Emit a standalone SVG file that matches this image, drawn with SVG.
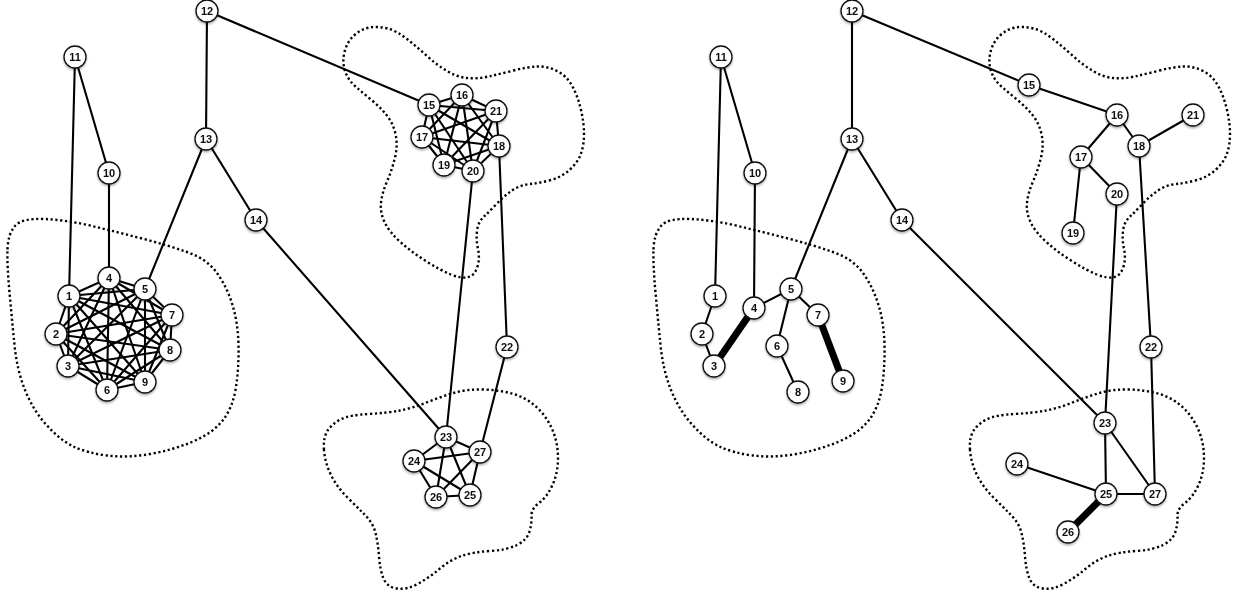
<svg xmlns="http://www.w3.org/2000/svg" xmlns:xlink="http://www.w3.org/1999/xlink" width="1236" height="598" viewBox="0 0 1236 598">
<style>
.blob{fill:none;stroke:#000;stroke-width:2.4;stroke-dasharray:2.2 2.6;stroke-linecap:butt}
.e{stroke:#000;stroke-width:2.1;stroke-linecap:round}
.t{stroke:#000;stroke-width:7;stroke-linecap:butt}
.n circle{fill:#fff;stroke:#111;stroke-width:1.3}
.n text{font-family:"Liberation Sans",Arial,sans-serif;font-size:11px;font-weight:bold;fill:#111;text-anchor:middle}
</style>
<defs>
<filter id="sh" x="-50%" y="-50%" width="200%" height="200%">
<feDropShadow dx="0" dy="1.5" stdDeviation="1" flood-color="#000" flood-opacity="0.35"/>
</filter>
<path id="blobA" d="M7.5,249.5 Q8,234 15,226 Q22,218 44.5,219 Q67,220 92,226 Q117,232 142,238.5 Q167,245 187,252 Q207,259 217,273 Q227,287 232.5,305 Q238,323 238.5,345 Q239,367 236,387 Q233,407 223,420 Q213,433 193,441.5 Q173,450 150,454 Q127,458 107,455.5 Q87,453 73.5,446.5 Q60,440 46.5,425 Q33,410 25,390 Q17,370 14.5,345 Q12,320 9.5,292.5 Q7,265 7.5,249.5 Z"/>
<path id="blobB" d="M345,71 Q342,62 344.5,52 Q347,42 354,35.5 Q361,29 369.5,27.5 Q378,26 387.5,28.5 Q397,31 407,39 Q417,47 427,56 Q437,65 447,71 Q457,77 467,78 Q477,79 488.5,76.5 Q500,74 513.5,70.5 Q527,67 537,66.5 Q547,66 557,71 Q567,76 572.5,86.5 Q578,97 581,110 Q584,123 584,134 Q584,145 581,153.5 Q578,162 570,169.5 Q562,177 551,180 Q540,183 530,184 Q520,185 512,190.5 Q504,196 497,203.5 Q490,211 484,216.5 Q478,222 477,231 Q476,240 478,249 Q480,258 477.5,266.5 Q475,275 468.5,277 Q462,279 451,274.5 Q440,270 426.5,261.5 Q413,253 401.5,243 Q390,233 385,223 Q380,213 381,203 Q382,193 387,181.5 Q392,170 395,157.5 Q398,145 395.5,134 Q393,123 386.5,115 Q380,107 371.5,100 Q363,93 355.5,86.5 Q348,80 345,71 Z"/>
<path id="blobC" d="M324,450 Q323,437 328,430 Q333,423 341.5,419 Q350,415 368.5,414 Q387,413 400,410.5 Q413,408 426.5,402.5 Q440,397 453.5,393 Q467,389 483.5,389.5 Q500,390 513.5,394 Q527,398 537,407.5 Q547,417 552.5,430 Q558,443 558,458 Q558,473 552.5,485 Q547,497 539,503 Q531,509 531.5,516 Q532,523 529.5,531.5 Q527,540 517,545 Q507,550 490,551 Q473,552 461.5,556 Q450,560 440,568.5 Q430,577 418.5,583.5 Q407,590 397,588.5 Q387,587 383.5,578.5 Q380,570 379,556.5 Q378,543 375.5,533 Q373,523 365,515 Q357,507 347,497 Q337,487 331,475 Q325,463 324,450 Z"/>
</defs>
<rect width="1236" height="598" fill="#fff"/>
<g id="clusters">
<use xlink:href="#blobA" href="#blobA" class="blob"/>
<use xlink:href="#blobB" href="#blobB" class="blob"/>
<use xlink:href="#blobC" href="#blobC" class="blob"/>
<use xlink:href="#blobA" href="#blobA" class="blob" transform="translate(646,0)"/>
<use xlink:href="#blobB" href="#blobB" class="blob" transform="translate(646,0)"/>
<use xlink:href="#blobC" href="#blobC" class="blob" transform="translate(646,0)"/>
</g>
<g id="connectors">
<!-- left graph -->
<line class="e" x1="75" y1="57" x2="69" y2="296"/>
<line class="e" x1="75" y1="57" x2="109" y2="173"/>
<line class="e" x1="109" y1="173" x2="109" y2="278"/>
<line class="e" x1="207" y1="11" x2="206" y2="139"/>
<line class="e" x1="207" y1="11" x2="429" y2="105"/>
<line class="e" x1="206" y1="139" x2="145" y2="289"/>
<line class="e" x1="206" y1="139" x2="256" y2="220"/>
<line class="e" x1="256" y1="220" x2="446" y2="437"/>
<line class="e" x1="473" y1="171" x2="446" y2="437"/>
<line class="e" x1="499" y1="146" x2="507" y2="347"/>
<line class="e" x1="507" y1="347" x2="480" y2="452"/>
<line class="e" x1="69" y1="296" x2="56" y2="334"/>
<line class="e" x1="69" y1="296" x2="68" y2="366"/>
<line class="e" x1="69" y1="296" x2="109" y2="278"/>
<line class="e" x1="69" y1="296" x2="145" y2="289"/>
<line class="e" x1="69" y1="296" x2="107" y2="390"/>
<line class="e" x1="69" y1="296" x2="172" y2="315"/>
<line class="e" x1="69" y1="296" x2="170" y2="350"/>
<line class="e" x1="69" y1="296" x2="145" y2="382"/>
<line class="e" x1="56" y1="334" x2="68" y2="366"/>
<line class="e" x1="56" y1="334" x2="109" y2="278"/>
<line class="e" x1="56" y1="334" x2="145" y2="289"/>
<line class="e" x1="56" y1="334" x2="107" y2="390"/>
<line class="e" x1="56" y1="334" x2="172" y2="315"/>
<line class="e" x1="56" y1="334" x2="170" y2="350"/>
<line class="e" x1="56" y1="334" x2="145" y2="382"/>
<line class="e" x1="68" y1="366" x2="109" y2="278"/>
<line class="e" x1="68" y1="366" x2="145" y2="289"/>
<line class="e" x1="68" y1="366" x2="107" y2="390"/>
<line class="e" x1="68" y1="366" x2="172" y2="315"/>
<line class="e" x1="68" y1="366" x2="170" y2="350"/>
<line class="e" x1="68" y1="366" x2="145" y2="382"/>
<line class="e" x1="109" y1="278" x2="145" y2="289"/>
<line class="e" x1="109" y1="278" x2="107" y2="390"/>
<line class="e" x1="109" y1="278" x2="172" y2="315"/>
<line class="e" x1="109" y1="278" x2="170" y2="350"/>
<line class="e" x1="109" y1="278" x2="145" y2="382"/>
<line class="e" x1="145" y1="289" x2="107" y2="390"/>
<line class="e" x1="145" y1="289" x2="172" y2="315"/>
<line class="e" x1="145" y1="289" x2="170" y2="350"/>
<line class="e" x1="145" y1="289" x2="145" y2="382"/>
<line class="e" x1="107" y1="390" x2="172" y2="315"/>
<line class="e" x1="107" y1="390" x2="170" y2="350"/>
<line class="e" x1="107" y1="390" x2="145" y2="382"/>
<line class="e" x1="172" y1="315" x2="170" y2="350"/>
<line class="e" x1="172" y1="315" x2="145" y2="382"/>
<line class="e" x1="170" y1="350" x2="145" y2="382"/>
<line class="e" x1="429" y1="105" x2="462" y2="95"/>
<line class="e" x1="429" y1="105" x2="422" y2="137"/>
<line class="e" x1="429" y1="105" x2="499" y2="146"/>
<line class="e" x1="429" y1="105" x2="444" y2="165"/>
<line class="e" x1="429" y1="105" x2="473" y2="171"/>
<line class="e" x1="429" y1="105" x2="496" y2="111"/>
<line class="e" x1="462" y1="95" x2="422" y2="137"/>
<line class="e" x1="462" y1="95" x2="499" y2="146"/>
<line class="e" x1="462" y1="95" x2="444" y2="165"/>
<line class="e" x1="462" y1="95" x2="473" y2="171"/>
<line class="e" x1="462" y1="95" x2="496" y2="111"/>
<line class="e" x1="422" y1="137" x2="499" y2="146"/>
<line class="e" x1="422" y1="137" x2="444" y2="165"/>
<line class="e" x1="422" y1="137" x2="473" y2="171"/>
<line class="e" x1="422" y1="137" x2="496" y2="111"/>
<line class="e" x1="499" y1="146" x2="444" y2="165"/>
<line class="e" x1="499" y1="146" x2="473" y2="171"/>
<line class="e" x1="499" y1="146" x2="496" y2="111"/>
<line class="e" x1="444" y1="165" x2="473" y2="171"/>
<line class="e" x1="444" y1="165" x2="496" y2="111"/>
<line class="e" x1="473" y1="171" x2="496" y2="111"/>
<line class="e" x1="446" y1="437" x2="414" y2="461"/>
<line class="e" x1="446" y1="437" x2="470" y2="495"/>
<line class="e" x1="446" y1="437" x2="436" y2="497"/>
<line class="e" x1="446" y1="437" x2="480" y2="452"/>
<line class="e" x1="414" y1="461" x2="470" y2="495"/>
<line class="e" x1="414" y1="461" x2="436" y2="497"/>
<line class="e" x1="414" y1="461" x2="480" y2="452"/>
<line class="e" x1="470" y1="495" x2="436" y2="497"/>
<line class="e" x1="470" y1="495" x2="480" y2="452"/>
<line class="e" x1="436" y1="497" x2="480" y2="452"/>
<!-- right graph -->
<line class="e" x1="721" y1="57" x2="715" y2="296"/>
<line class="e" x1="721" y1="57" x2="755" y2="173"/>
<line class="e" x1="755" y1="173" x2="754" y2="308"/>
<line class="e" x1="715" y1="296" x2="702" y2="334"/>
<line class="e" x1="702" y1="334" x2="714" y2="366"/>
<line class="t" x1="714" y1="366" x2="754" y2="308"/>
<line class="e" x1="754" y1="308" x2="791" y2="289"/>
<line class="e" x1="791" y1="289" x2="852" y2="139"/>
<line class="e" x1="791" y1="289" x2="777" y2="346"/>
<line class="e" x1="791" y1="289" x2="818" y2="315"/>
<line class="e" x1="777" y1="346" x2="798" y2="392"/>
<line class="t" x1="818" y1="315" x2="843" y2="381"/>
<line class="e" x1="852" y1="11" x2="852" y2="139"/>
<line class="e" x1="852" y1="139" x2="902" y2="220"/>
<line class="e" x1="902" y1="220" x2="1105" y2="423"/>
<line class="e" x1="852" y1="11" x2="1029" y2="85"/>
<line class="e" x1="1029" y1="85" x2="1117" y2="115"/>
<line class="e" x1="1117" y1="115" x2="1081" y2="157"/>
<line class="e" x1="1117" y1="115" x2="1139" y2="146"/>
<line class="e" x1="1139" y1="146" x2="1193" y2="115"/>
<line class="e" x1="1081" y1="157" x2="1073" y2="233"/>
<line class="e" x1="1081" y1="157" x2="1117" y2="194"/>
<line class="e" x1="1117" y1="194" x2="1105" y2="423"/>
<line class="e" x1="1139" y1="146" x2="1151" y2="347"/>
<line class="e" x1="1151" y1="347" x2="1155" y2="494"/>
<line class="e" x1="1105" y1="423" x2="1106" y2="494"/>
<line class="e" x1="1105" y1="423" x2="1155" y2="494"/>
<line class="e" x1="1017" y1="464" x2="1106" y2="494"/>
<line class="e" x1="1106" y1="494" x2="1155" y2="494"/>
<line class="t" x1="1106" y1="494" x2="1068" y2="532"/>
</g>
<g id="nodes-left" filter="url(#sh)">
<g id="L1" class="n"><circle cx="69" cy="296" r="11"/><text x="69" y="300">1</text></g>
<g id="L2" class="n"><circle cx="56" cy="334" r="11"/><text x="56" y="338">2</text></g>
<g id="L3" class="n"><circle cx="68" cy="366" r="11"/><text x="68" y="370">3</text></g>
<g id="L4" class="n"><circle cx="109" cy="278" r="11"/><text x="109" y="282">4</text></g>
<g id="L5" class="n"><circle cx="145" cy="289" r="11"/><text x="145" y="293">5</text></g>
<g id="L6" class="n"><circle cx="107" cy="390" r="11"/><text x="107" y="394">6</text></g>
<g id="L7" class="n"><circle cx="172" cy="315" r="11"/><text x="172" y="319">7</text></g>
<g id="L8" class="n"><circle cx="170" cy="350" r="11"/><text x="170" y="354">8</text></g>
<g id="L9" class="n"><circle cx="145" cy="382" r="11"/><text x="145" y="386">9</text></g>
<g id="L10" class="n"><circle cx="109" cy="173" r="11"/><text x="109" y="177">10</text></g>
<g id="L11" class="n"><circle cx="75" cy="57" r="11"/><text x="75" y="61">11</text></g>
<g id="L12" class="n"><circle cx="207" cy="11" r="11"/><text x="207" y="15">12</text></g>
<g id="L13" class="n"><circle cx="206" cy="139" r="11"/><text x="206" y="143">13</text></g>
<g id="L14" class="n"><circle cx="256" cy="220" r="11"/><text x="256" y="224">14</text></g>
<g id="L15" class="n"><circle cx="429" cy="105" r="11"/><text x="429" y="109">15</text></g>
<g id="L16" class="n"><circle cx="462" cy="95" r="11"/><text x="462" y="99">16</text></g>
<g id="L17" class="n"><circle cx="422" cy="137" r="11"/><text x="422" y="141">17</text></g>
<g id="L18" class="n"><circle cx="499" cy="146" r="11"/><text x="499" y="150">18</text></g>
<g id="L19" class="n"><circle cx="444" cy="165" r="11"/><text x="444" y="169">19</text></g>
<g id="L20" class="n"><circle cx="473" cy="171" r="11"/><text x="473" y="175">20</text></g>
<g id="L21" class="n"><circle cx="496" cy="111" r="11"/><text x="496" y="115">21</text></g>
<g id="L22" class="n"><circle cx="507" cy="347" r="11"/><text x="507" y="351">22</text></g>
<g id="L23" class="n"><circle cx="446" cy="437" r="11"/><text x="446" y="441">23</text></g>
<g id="L24" class="n"><circle cx="414" cy="461" r="11"/><text x="414" y="465">24</text></g>
<g id="L25" class="n"><circle cx="470" cy="495" r="11"/><text x="470" y="499">25</text></g>
<g id="L26" class="n"><circle cx="436" cy="497" r="11"/><text x="436" y="501">26</text></g>
<g id="L27" class="n"><circle cx="480" cy="452" r="11"/><text x="480" y="456">27</text></g>
</g>
<g id="nodes-right" filter="url(#sh)">
<g id="R1" class="n"><circle cx="715" cy="296" r="11"/><text x="715" y="300">1</text></g>
<g id="R2" class="n"><circle cx="702" cy="334" r="11"/><text x="702" y="338">2</text></g>
<g id="R3" class="n"><circle cx="714" cy="366" r="11"/><text x="714" y="370">3</text></g>
<g id="R4" class="n"><circle cx="754" cy="308" r="11"/><text x="754" y="312">4</text></g>
<g id="R5" class="n"><circle cx="791" cy="289" r="11"/><text x="791" y="293">5</text></g>
<g id="R6" class="n"><circle cx="777" cy="346" r="11"/><text x="777" y="350">6</text></g>
<g id="R7" class="n"><circle cx="818" cy="315" r="11"/><text x="818" y="319">7</text></g>
<g id="R8" class="n"><circle cx="798" cy="392" r="11"/><text x="798" y="396">8</text></g>
<g id="R9" class="n"><circle cx="843" cy="381" r="11"/><text x="843" y="385">9</text></g>
<g id="R10" class="n"><circle cx="755" cy="173" r="11"/><text x="755" y="177">10</text></g>
<g id="R11" class="n"><circle cx="721" cy="57" r="11"/><text x="721" y="61">11</text></g>
<g id="R12" class="n"><circle cx="852" cy="11" r="11"/><text x="852" y="15">12</text></g>
<g id="R13" class="n"><circle cx="852" cy="139" r="11"/><text x="852" y="143">13</text></g>
<g id="R14" class="n"><circle cx="902" cy="220" r="11"/><text x="902" y="224">14</text></g>
<g id="R15" class="n"><circle cx="1029" cy="85" r="11"/><text x="1029" y="89">15</text></g>
<g id="R16" class="n"><circle cx="1117" cy="115" r="11"/><text x="1117" y="119">16</text></g>
<g id="R17" class="n"><circle cx="1081" cy="157" r="11"/><text x="1081" y="161">17</text></g>
<g id="R18" class="n"><circle cx="1139" cy="146" r="11"/><text x="1139" y="150">18</text></g>
<g id="R19" class="n"><circle cx="1073" cy="233" r="11"/><text x="1073" y="237">19</text></g>
<g id="R20" class="n"><circle cx="1117" cy="194" r="11"/><text x="1117" y="198">20</text></g>
<g id="R21" class="n"><circle cx="1193" cy="115" r="11"/><text x="1193" y="119">21</text></g>
<g id="R22" class="n"><circle cx="1151" cy="347" r="11"/><text x="1151" y="351">22</text></g>
<g id="R23" class="n"><circle cx="1105" cy="423" r="11"/><text x="1105" y="427">23</text></g>
<g id="R24" class="n"><circle cx="1017" cy="464" r="11"/><text x="1017" y="468">24</text></g>
<g id="R25" class="n"><circle cx="1106" cy="494" r="11"/><text x="1106" y="498">25</text></g>
<g id="R26" class="n"><circle cx="1068" cy="532" r="11"/><text x="1068" y="536">26</text></g>
<g id="R27" class="n"><circle cx="1155" cy="494" r="11"/><text x="1155" y="498">27</text></g>
</g>
</svg>
